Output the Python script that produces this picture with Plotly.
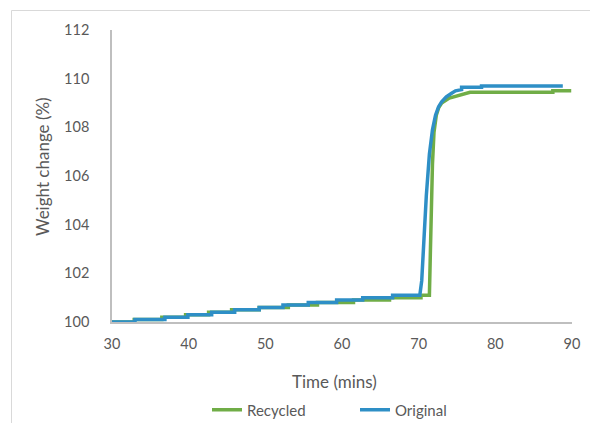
import plotly.graph_objects as go

# Original: step segments (time, value) then the rise curve
orig_step_times = [30, 33.0, 36.9, 39.9, 43.0, 46.0, 49.2, 52.3, 55.6, 59.3, 62.7, 66.6, 70.15]
orig_step_levels = [100.0, 100.1, 100.2, 100.3, 100.4, 100.5, 100.6, 100.7, 100.8, 100.9, 101.0, 101.1]
orig_rise_t = [70.4, 70.7, 71.0, 71.4, 71.8, 72.2, 72.6, 73.0, 73.6, 74.3, 74.8, 75.6, 75.6, 78.2, 78.2, 88.8]
orig_rise_v = [101.7, 103.5, 105.2, 106.9, 107.9, 108.5, 108.85, 109.05, 109.25, 109.4, 109.5, 109.55, 109.65, 109.65, 109.7, 109.7]

rec_step_times = [30, 32.9, 36.5, 39.6, 42.6, 45.6, 49.2, 53.0, 56.8, 61.5, 66.2, 70.3, 71.4]
rec_step_levels = [100.0, 100.1, 100.2, 100.3, 100.4, 100.5, 100.6, 100.7, 100.8, 100.9, 101.0, 101.1]
rec_rise_t = [71.5, 71.6, 71.8, 72.0, 72.3, 72.6, 73.0, 74.0, 75.0, 76.0, 76.7, 87.5, 87.5, 89.9]
rec_rise_v = [102.5, 104.5, 106.5, 107.8, 108.5, 108.8, 109.0, 109.2, 109.3, 109.4, 109.44, 109.44, 109.5, 109.5]

x_ticks = [30, 40, 50, 60, 70, 80, 90]
y_ticks = [100, 102, 104, 106, 108, 110, 112]


def build(step_times, step_levels, rise_t, rise_v):
    xs, ys = [], []
    for i, lvl in enumerate(step_levels):
        xs += [step_times[i], step_times[i + 1]]
        ys += [lvl, lvl]
    xs += rise_t
    ys += rise_v
    return xs, ys


ox, oy = build(orig_step_times, orig_step_levels, orig_rise_t, orig_rise_v)
rx, ry = build(rec_step_times, rec_step_levels, rec_rise_t, rec_rise_v)

FONT = "Lato, 'Open Sans', sans-serif"
GREY = "#595959"

fig = go.Figure()
fig.add_trace(go.Scatter(x=rx, y=ry, mode="lines", name="Recycled",
                         line=dict(color="#70AD47", width=3.5)))
fig.add_trace(go.Scatter(x=ox, y=oy, mode="lines", name="Original",
                         line=dict(color="#2E8FC6", width=3.5)))

# page body has an 8px margin, so the figure is 8px smaller and margins shifted
fig.update_layout(
    width=590, height=415,
    margin=dict(l=104, r=26, t=22, b=101, autoexpand=False),
    plot_bgcolor="white", paper_bgcolor="white",
    font=dict(family=FONT, color=GREY, size=14),
    showlegend=True,
    legend=dict(orientation="h", x=(207 - 112) / 460, y=(322 - 410) / 292,
                xanchor="left", yanchor="middle",
                font=dict(size=15, color=GREY), entrywidth=103,
                bgcolor="rgba(0,0,0,0)"),
    xaxis=dict(range=[30, 90], tickvals=x_ticks, showgrid=False, zeroline=False,
               showline=True, linecolor="#BFBFBF", linewidth=1.5,
               ticks="", ticklabelstandoff=8, tickfont=dict(size=14.5, color=GREY)),
    yaxis=dict(range=[100, 112], tickvals=y_ticks, showgrid=False, zeroline=False,
               showline=True, linecolor="#BFBFBF", linewidth=1.5,
               ticks="", ticklabelstandoff=18, tickfont=dict(size=14.5, color=GREY)),
    annotations=[
        dict(text="Time (mins)", xref="paper", yref="paper", x=(334 - 112) / 460,
             y=(322 - 381) / 292,
             showarrow=False, xanchor="center", yanchor="middle",
             font=dict(size=17, color=GREY)),
        dict(text="Weight change (%)", xref="paper", yref="paper", x=(42 - 112) / 460,
             y=(322 - 167) / 292,
             showarrow=False, textangle=-90, xanchor="center", yanchor="middle",
             font=dict(size=17, color=GREY)),
    ],
    shapes=[
        dict(type="rect", xref="paper", yref="paper",
             x0=(11.5 - 112) / 460, x1=2.0, y0=-2.0, y1=1 + (30 - 10.5) / 292,
             line=dict(color="#D9D9D9", width=1), fillcolor="rgba(0,0,0,0)", layer="below"),
    ],
)

fig.write_html("out.html")
